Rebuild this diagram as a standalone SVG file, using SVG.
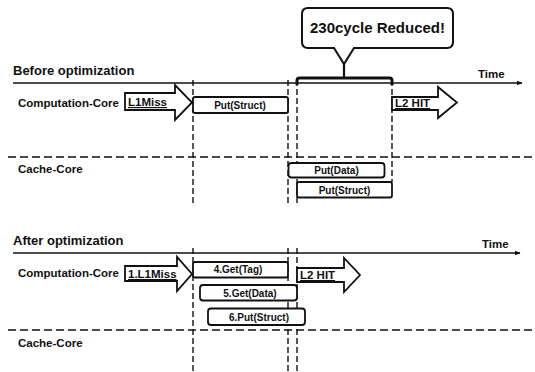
<svg xmlns="http://www.w3.org/2000/svg" width="535" height="372" viewBox="0 0 535 372">
<style>
text{font-family:"Liberation Sans",Arial,sans-serif;font-weight:bold;fill:#111}
.hd{font-size:13px}
.lb{font-size:11.5px}
.bx{font-size:10px;text-anchor:middle}
.box{fill:#fff;stroke:#111;stroke-width:1.8}
.blk{fill:#fff;stroke:#111;stroke-width:1.8;stroke-linejoin:miter}
.tl{stroke:#111;stroke-width:1.6;fill:none}
.dh{stroke:#111;stroke-width:1.6;stroke-dasharray:8 4;fill:none}
.dv{stroke:#111;stroke-width:1.4;stroke-dasharray:6 3;fill:none}
</style>
<defs>
<marker id="ah" viewBox="0 0 10 10" refX="9" refY="5" markerWidth="6" markerHeight="6" orient="auto" markerUnits="userSpaceOnUse">
<path d="M0,1 L10,5 L0,9 Z" fill="#111"/>
</marker>
</defs>
<rect width="535" height="372" fill="#fff"/>

<g id="connectors">
<line class="tl" x1="13" y1="83" x2="522" y2="83" marker-end="url(#ah)"/>
<line class="tl" x1="13" y1="253" x2="520" y2="253" marker-end="url(#ah)"/>
<line class="dh" x1="8" y1="157" x2="535" y2="157"/>
<line class="dh" x1="8" y1="330" x2="535" y2="330"/>
<line class="dv" x1="193" y1="80" x2="193" y2="205"/>
<line class="dv" x1="288" y1="80" x2="288" y2="205"/>
<line class="dv" x1="297" y1="80" x2="297" y2="205"/>
<line class="dv" x1="392" y1="80" x2="392" y2="182"/>
<line class="dv" x1="193" y1="248" x2="193" y2="372"/>
<line class="dv" x1="288" y1="248" x2="288" y2="372"/>
<line class="dv" x1="297" y1="248" x2="297" y2="372"/>
<path d="M297,85 V80.5 Q297,78 299.5,78 H389.5 Q392,78 392,80.5 V85" fill="none" stroke="#111" stroke-width="3"/>
<line x1="344" y1="64" x2="344" y2="78" stroke="#111" stroke-width="2.2"/>
</g>

<g id="before-title"><text class="hd" x="13" y="75">Before optimization</text></g>
<g id="before-time"><text class="lb" x="478" y="78" font-size="11">Time</text></g>
<g id="before-comp"><text class="lb" x="18" y="107">Computation-Core</text></g>
<g id="before-cache"><text class="lb" x="18" y="173">Cache-Core</text></g>

<g id="callout">
<path d="M308,8 H447 Q453,8 453,14 V42 Q453,48 447,48 H354 L344,64 L334,48 H308 Q302,48 302,42 V14 Q302,8 308,8 Z" fill="#fff" stroke="#111" stroke-width="2"/>
<text x="377.5" y="33" font-size="15" text-anchor="middle">230cycle Reduced!</text>
</g>

<g id="b-l1miss">
<polygon class="blk" points="125,93 175,93 175,85 192,102.5 175,120 175,110 125,110"/>
<text class="lb" x="128" y="106" font-size="11" text-decoration="underline">L1Miss</text>
</g>
<g id="b-putstruct">
<rect class="box" x="193" y="97" width="95" height="16" rx="2"/>
<text class="bx" x="240" y="109">Put(Struct)</text>
</g>
<g id="b-l2hit">
<polygon class="blk" points="392,97 438,97 438,87 457,102.5 438,118 438,110 392,110"/>
<text class="lb" x="395" y="107" font-size="11" text-decoration="underline">L2 HIT</text>
</g>
<g id="b-putdata">
<rect class="box" x="288.5" y="163" width="96" height="14.5" rx="3"/>
<text class="bx" x="336.5" y="174">Put(Data)</text>
</g>
<g id="b-putstruct2">
<rect class="box" x="297" y="182" width="95" height="15.5" rx="2"/>
<text class="bx" x="344.5" y="193.5">Put(Struct)</text>
</g>

<g id="after-title"><text class="hd" x="13" y="245">After optimization</text></g>
<g id="after-time"><text class="lb" x="482" y="248" font-size="11">Time</text></g>
<g id="after-comp"><text class="lb" x="18" y="277">Computation-Core</text></g>
<g id="after-cache"><text class="lb" x="18" y="347">Cache-Core</text></g>

<g id="a-l1miss">
<polygon class="blk" points="125,266 177,266 177,257 192,274 177,291 177,281 125,281"/>
<text class="lb" x="128" y="278" font-size="11" text-decoration="underline">1.L1Miss</text>
</g>
<g id="a-gettag">
<rect class="box" x="193" y="262" width="95" height="15.5" rx="2"/>
<text class="bx" x="238" y="273">4.Get(Tag)</text>
</g>
<g id="a-getdata">
<rect class="box" x="200" y="285" width="97" height="15.5" rx="3"/>
<text class="bx" x="250" y="297">5.Get(Data)</text>
</g>
<g id="a-putstruct">
<rect class="box" x="208" y="308.5" width="97" height="16.5" rx="3"/>
<text class="bx" x="259" y="321">6.Put(Struct)</text>
</g>
<g id="a-l2hit">
<polygon class="blk" points="297,268 344,268 344,258 360,275 344,292 344,282 297,282"/>
<text class="lb" x="300" y="279" font-size="11" text-decoration="underline">L2 HIT</text>
</g>
</svg>
